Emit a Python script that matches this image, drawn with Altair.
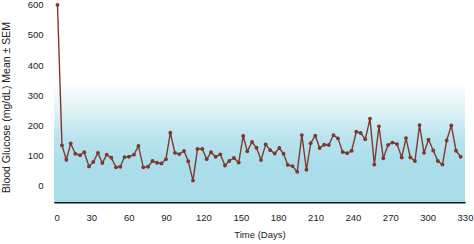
import altair as alt
import pandas as pd

# Days (x) and blood glucose (y)
days = [2.8, 6.4, 9.9, 13.4, 17.1, 20.9, 24.3, 28.1, 31.6, 35.3,
        38.8, 42.3, 46.0, 49.8, 53.2, 56.6, 60.2, 64.2, 67.8, 71.7,
        75.5, 79.1, 82.7, 86.2, 89.9, 93.4, 97.1, 100.6, 104.4, 107.8,
        111.6, 115.2, 119.1, 122.6, 126.1, 129.8, 133.5, 137.3, 140.7, 144.5,
        148.3, 151.9, 155.2, 159.0, 162.6, 166.2, 170.0, 173.6, 177.2, 180.9,
        184.3, 187.7, 191.5, 195.3, 199.0, 202.7, 206.1, 209.8, 213.3, 216.9,
        220.6, 224.4, 228.0, 231.8, 235.4, 239.0, 242.7, 246.2, 249.9, 253.7,
        257.2, 260.9, 264.4, 268.2, 271.8, 275.4, 279.2, 282.6, 286.1, 289.8,
        293.5, 297.1, 300.7, 304.5, 308.2, 311.9, 315.3, 319.0, 322.8, 326.5]
glucose = [600, 134, 86, 140, 106, 101, 111, 64, 79, 109,
           75, 103, 93, 61, 63, 95, 96, 103, 132, 61,
           63, 82, 76, 74, 88, 176, 109, 105, 115, 81,
           17, 122, 122, 88, 111, 96, 104, 67, 82, 92,
           77, 165, 114, 145, 126, 85, 137, 118, 107, 125,
           106, 69, 65, 46, 168, 53, 141, 166, 125, 136,
           135, 168, 157, 112, 108, 116, 179, 175, 154, 222,
           70, 197, 91, 135, 143, 138, 94, 158, 94, 82,
           201, 109, 153, 117, 82, 70, 150, 200, 116, 96]

x_ticks = [0, 30, 60, 90, 120, 150, 180, 210, 240, 270, 300, 330]
y_ticks = [0, 100, 200, 300, 400, 500, 600]
x_domain = [0, 330]
y_domain = [-54, 616]

df = pd.DataFrame({"day": days, "glucose": glucose})
bg = pd.DataFrame({"x0": [x_domain[0]], "x1": [x_domain[1]],
                   "y0": [y_domain[0]], "y1": [y_domain[1]]})

FONT = "Liberation Sans"
LINE_COLOR = "#7d3a2b"

x_scale = alt.Scale(domain=x_domain, nice=False, zero=False)
y_scale = alt.Scale(domain=y_domain, nice=False, zero=False)

x_axis = alt.Axis(values=x_ticks, title="Time (Days)", grid=False, ticks=False,
                  tickSize=0, labelPadding=10, titlePadding=8,
                  domainColor="#1a1a1a", domainWidth=2,
                  labelAlign=alt.ExprRef("datum.value == 0 ? 'left' : 'center'"),
                  labelFlush=False, labelOverlap=False)
y_axis = alt.Axis(values=y_ticks, title="Blood Glucose (mg/dL) Mean \u00b1 SEM",
                  grid=False, ticks=False, tickSize=0, labelPadding=11,
                  titlePadding=16, titleY=107, domainColor="#1a1a1a",
                  domainWidth=1, labelFlush=False, labelOverlap=False)

gradient = alt.Gradient(
    gradient="linear",
    stops=[alt.GradientStop(color="#ffffff", offset=0),
           alt.GradientStop(color="#ffffff", offset=0.40),
           alt.GradientStop(color="#dcf1f7", offset=0.56),
           alt.GradientStop(color="#b9e3ee", offset=0.68),
           alt.GradientStop(color="#abdeeb", offset=0.80),
           alt.GradientStop(color="#a8dce9", offset=1)],
    x1=0, x2=0, y1=0, y2=1)

background = alt.Chart(bg).mark_rect(color=gradient).encode(
    x=alt.X("x0:Q", scale=x_scale, axis=x_axis),
    x2="x1:Q",
    y=alt.Y("y0:Q", scale=y_scale, axis=y_axis),
    y2="y1:Q",
)

line = alt.Chart(df).mark_line(color=LINE_COLOR, strokeWidth=1.4).encode(
    x=alt.X("day:Q", scale=x_scale, axis=x_axis),
    y=alt.Y("glucose:Q", scale=y_scale, axis=y_axis),
)

points = alt.Chart(df).mark_circle(color=LINE_COLOR, size=15, opacity=1).encode(
    x=alt.X("day:Q", scale=x_scale, axis=x_axis),
    y=alt.Y("glucose:Q", scale=y_scale, axis=y_axis),
)

chart = alt.layer(background, line, points).properties(
    width=411, height=202,
    padding={"left": 54, "top": 0, "right": 9, "bottom": 42},
    autosize=alt.AutoSizeParams(type="none"),
    background="white",
).configure_view(stroke=None).configure_axis(
    labelFont=FONT, titleFont=FONT, labelFontSize=9.5, titleFontSize=9.5,
    labelColor="#222222", titleColor="#222222", titleFontWeight="normal",
).configure_axisY(titleFontSize=10.5)

chart.save("out.html", embed_options={"renderer": "svg", "actions": False})
